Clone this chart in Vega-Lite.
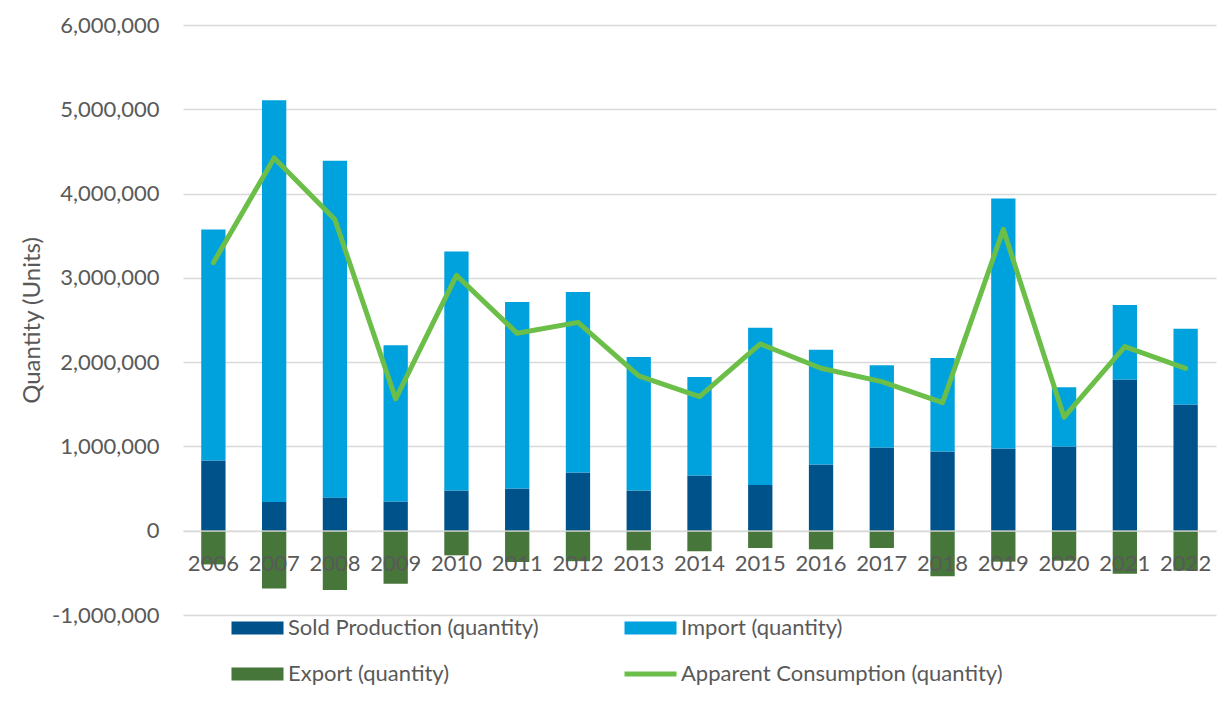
{
  "$schema": "https://vega.github.io/schema/vega-lite/v6.json",
  "width": 1033,
  "height": 590,
  "autosize": {"type": "none"},
  "padding": {"left": 183, "top": 25, "right": 11, "bottom": 87},
  "background": "white",
  "config": {
    "view": {"stroke": null},
    "font": "Lato",
    "axis": {"labelFont": "Lato", "titleFont": "Lato", "labelColor": "#595959", "titleColor": "#595959"},
    "legend": {"labelFont": "Lato"}
  },
  "data": {
    "values": [
      {"year": "2006", "series": "Sold Production (quantity)", "value": 833000},
      {"year": "2006", "series": "Import (quantity)", "value": 2742000},
      {"year": "2006", "series": "Export (quantity)", "value": -400000},
      {"year": "2006", "series": "Apparent Consumption (quantity)", "value": 3180000},
      {"year": "2007", "series": "Sold Production (quantity)", "value": 340000},
      {"year": "2007", "series": "Import (quantity)", "value": 4767000},
      {"year": "2007", "series": "Export (quantity)", "value": -687000},
      {"year": "2007", "series": "Apparent Consumption (quantity)", "value": 4423000},
      {"year": "2008", "series": "Sold Production (quantity)", "value": 395000},
      {"year": "2008", "series": "Import (quantity)", "value": 3993000},
      {"year": "2008", "series": "Export (quantity)", "value": -703000},
      {"year": "2008", "series": "Apparent Consumption (quantity)", "value": 3693000},
      {"year": "2009", "series": "Sold Production (quantity)", "value": 347000},
      {"year": "2009", "series": "Import (quantity)", "value": 1853000},
      {"year": "2009", "series": "Export (quantity)", "value": -628000},
      {"year": "2009", "series": "Apparent Consumption (quantity)", "value": 1564000},
      {"year": "2010", "series": "Sold Production (quantity)", "value": 478000},
      {"year": "2010", "series": "Import (quantity)", "value": 2836000},
      {"year": "2010", "series": "Export (quantity)", "value": -292000},
      {"year": "2010", "series": "Apparent Consumption (quantity)", "value": 3030000},
      {"year": "2011", "series": "Sold Production (quantity)", "value": 502000},
      {"year": "2011", "series": "Import (quantity)", "value": 2211000},
      {"year": "2011", "series": "Export (quantity)", "value": -371000},
      {"year": "2011", "series": "Apparent Consumption (quantity)", "value": 2342000},
      {"year": "2012", "series": "Sold Production (quantity)", "value": 691000},
      {"year": "2012", "series": "Import (quantity)", "value": 2141000},
      {"year": "2012", "series": "Export (quantity)", "value": -362000},
      {"year": "2012", "series": "Apparent Consumption (quantity)", "value": 2472000},
      {"year": "2013", "series": "Sold Production (quantity)", "value": 478000},
      {"year": "2013", "series": "Import (quantity)", "value": 1584000},
      {"year": "2013", "series": "Export (quantity)", "value": -233000},
      {"year": "2013", "series": "Apparent Consumption (quantity)", "value": 1836000},
      {"year": "2014", "series": "Sold Production (quantity)", "value": 655000},
      {"year": "2014", "series": "Import (quantity)", "value": 1170000},
      {"year": "2014", "series": "Export (quantity)", "value": -245000},
      {"year": "2014", "series": "Apparent Consumption (quantity)", "value": 1591000},
      {"year": "2015", "series": "Sold Production (quantity)", "value": 541000},
      {"year": "2015", "series": "Import (quantity)", "value": 1868000},
      {"year": "2015", "series": "Export (quantity)", "value": -205000},
      {"year": "2015", "series": "Apparent Consumption (quantity)", "value": 2216000},
      {"year": "2016", "series": "Sold Production (quantity)", "value": 786000},
      {"year": "2016", "series": "Import (quantity)", "value": 1362000},
      {"year": "2016", "series": "Export (quantity)", "value": -221000},
      {"year": "2016", "series": "Apparent Consumption (quantity)", "value": 1927000},
      {"year": "2017", "series": "Sold Production (quantity)", "value": 987000},
      {"year": "2017", "series": "Import (quantity)", "value": 976000},
      {"year": "2017", "series": "Export (quantity)", "value": -205000},
      {"year": "2017", "series": "Apparent Consumption (quantity)", "value": 1769000},
      {"year": "2018", "series": "Sold Production (quantity)", "value": 940000},
      {"year": "2018", "series": "Import (quantity)", "value": 1110000},
      {"year": "2018", "series": "Export (quantity)", "value": -541000},
      {"year": "2018", "series": "Apparent Consumption (quantity)", "value": 1520000},
      {"year": "2019", "series": "Sold Production (quantity)", "value": 975000},
      {"year": "2019", "series": "Import (quantity)", "value": 2967000},
      {"year": "2019", "series": "Export (quantity)", "value": -367000},
      {"year": "2019", "series": "Apparent Consumption (quantity)", "value": 3575000},
      {"year": "2020", "series": "Sold Production (quantity)", "value": 999000},
      {"year": "2020", "series": "Import (quantity)", "value": 704000},
      {"year": "2020", "series": "Export (quantity)", "value": -356000},
      {"year": "2020", "series": "Apparent Consumption (quantity)", "value": 1347000},
      {"year": "2021", "series": "Sold Production (quantity)", "value": 1793000},
      {"year": "2021", "series": "Import (quantity)", "value": 885000},
      {"year": "2021", "series": "Export (quantity)", "value": -510000},
      {"year": "2021", "series": "Apparent Consumption (quantity)", "value": 2184000},
      {"year": "2022", "series": "Sold Production (quantity)", "value": 1496000},
      {"year": "2022", "series": "Import (quantity)", "value": 901000},
      {"year": "2022", "series": "Export (quantity)", "value": -474000},
      {"year": "2022", "series": "Apparent Consumption (quantity)", "value": 1927000}
    ]
  },
  "encoding": {
    "x": {
      "field": "year",
      "type": "nominal",
      "scale": {"paddingInner": 0.6, "paddingOuter": 0.3},
      "axis": {
        "title": null,
        "labelAngle": 0,
        "labelFontSize": 22,
        "labelBaseline": "middle",
        "labelPadding": 33,
        "ticks": false,
        "domain": true,
        "domainColor": "#D9D9D9",
        "domainWidth": 1.3,
        "offset": -84.3,
        "zindex": 1,
        "grid": false
      }
    },
    "color": {
      "field": "series",
      "type": "nominal",
      "scale": {
        "domain": ["Sold Production (quantity)", "Export (quantity)", "Import (quantity)", "Apparent Consumption (quantity)"],
        "range": ["#00538A", "#47763A", "#00A2DE", "#6BBE48"]
      },
      "legend": {
        "title": null,
        "orient": "none",
        "legendX": 44,
        "legendY": 592,
        "columns": 2,
        "columnPadding": 81,
        "rowPadding": 24,
        "labelFontSize": 22,
        "labelColor": "#595959",
        "labelLimit": 500,
        "labelOffset": 39,
        "symbolSize": 169,
        "encode": {
          "symbols": {
            "update": {
              "shape": {"signal": "datum.value === 'Apparent Consumption (quantity)' ? 'M-1,-0.38H7V0.38H-1Z' : 'M-1,-1H7V1H-1Z'"},
              "fill": {"scale": "color", "field": "value"},
              "stroke": {"value": "transparent"},
              "strokeWidth": {"value": 0},
              "fillOpacity": {"value": 1},
              "opacity": {"value": 1}
            }
          }
        }
      }
    }
  },
  "layer": [
    {
      "transform": [{"filter": "datum.series !== 'Apparent Consumption (quantity)'"}],
      "mark": {"type": "bar"},
      "encoding": {
        "y": {
          "field": "value",
          "type": "quantitative",
          "stack": "zero",
          "scale": {"domain": [-1000000, 6000000], "nice": false},
          "axis": {
            "title": "Quantity (Units)",
            "titleFontSize": 24,
            "titleFontWeight": "normal",
            "titlePadding": 7,
            "labelFontSize": 22,
            "labelPadding": 24,
            "values": [-1000000, 0, 1000000, 2000000, 3000000, 4000000, 5000000, 6000000],
            "labelExpr": "(datum.value < 0 ? '-' : '') + format(abs(datum.value), ',')",
            "ticks": false,
            "domain": false,
            "grid": true,
            "gridColor": "#D9D9D9",
            "gridWidth": 1.3
          }
        },
        "order": {"field": "series", "sort": "descending"}
      }
    },
    {
      "transform": [{"filter": "datum.series === 'Apparent Consumption (quantity)'"}],
      "mark": {"type": "line", "strokeWidth": 5, "strokeCap": "round", "strokeJoin": "round"},
      "encoding": {
        "y": {"field": "value", "type": "quantitative"}
      }
    }
  ]
}
